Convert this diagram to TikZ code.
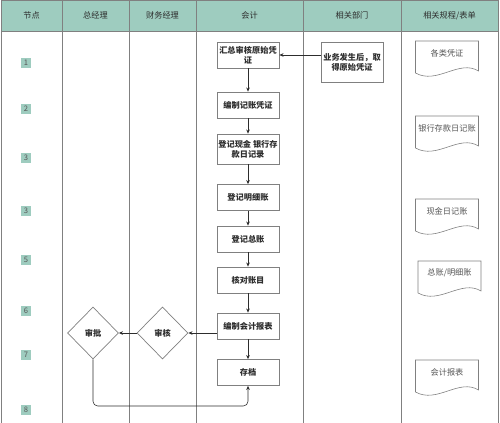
\documentclass[tikz,border=0pt]{standalone}
\usepackage{fontspec}
\newfontfamily\cjk{Noto Sans CJK SC}
\usepackage{tikz}
\usetikzlibrary{arrows.meta, positioning, shapes.geometric, calc}
\usepackage{xcolor}
\definecolor{hdrfill}{RGB}{158,204,191}
\definecolor{laneline}{RGB}{128,128,128}
\definecolor{inkgray}{RGB}{45,45,45}
\definecolor{formgray}{RGB}{85,85,85}

\tikzset{
  form/.pic={
    \draw[draw=laneline, line width=0.5pt, fill=white] (-31.5,20) -- (-31.5,-12) -- (31.5,-12) -- (31.5,18)
      .. controls (12,6) and (-10,32) .. (-31.5,20) -- cycle;
    \node[formtxt] (-t) at (0,0) {#1};
  }
}

\begin{document}
\begin{tikzpicture}[x=0.03cm, y=-0.03cm,
  lane/.style={draw=laneline, line width=0.6pt},
  hdr/.style={font=\cjk\fontsize{7}{8.4}\selectfont, text=inkgray},
  tag/.style={fill=hdrfill, font=\cjk\fontsize{6.5}{7}\selectfont, text=formgray, inner sep=0pt,
    minimum width=9pt, minimum height=8.5pt},
  task/.style={draw=laneline, line width=0.6pt, fill=white, minimum width=1.86cm, minimum height=0.78cm,
    align=center, inner sep=1pt, font=\cjk\fontsize{7}{8.6}\selectfont\bfseries, text=inkgray},
  decide/.style={diamond, draw=laneline, line width=0.6pt, fill=white, minimum width=1.53cm, minimum height=1.56cm,
    inner sep=0pt, font=\cjk\fontsize{7}{8.4}\selectfont\bfseries, text=inkgray},
  formtxt/.style={font=\cjk\fontsize{7}{8.4}\selectfont, text=formgray, inner sep=1pt},
  arr/.style={-{Stealth[length=3.5pt,width=3pt]}, draw=inkgray, line width=0.5pt}
]
  \useasboundingbox (0,0) rectangle (500,423);
  \fill[hdrfill] (1,0.5) rectangle (498,31);
  \foreach \x in {1,62,129,196,303,401,498}
    \draw[lane] (\x,0) -- (\x,423);
  \draw[lane] (1,0.5) -- (498,0.5);
  \draw[lane] (1,31) -- (498,31);

  \foreach \t/\x [count=\i] in {{节点}/31.5, {总经理}/95.5, {财务经理}/162.5, {会计}/249.5, {相关部门}/352, {相关规程/表单}/449.5}
    \node[hdr] (h\i) at (\x,15.5) {\t};

  \foreach \n/\y [count=\i] in {1/63, 2/109, 3/158, 3/211, 5/260, 6/311, 7/355, 8/410}
    \node[tag] (n\i) at (26,\y) {\n};

  \node[task] (b1) at (248,55) {汇总审核原始凭\\证};
  \node[task] (b2) at (248,105) {编制记账凭证};
  \node[task, minimum height=0.9cm] (b3) at (248,149) {登记现金 银行存\\款日记录};
  \node[task] (b4) at (248,197.5) {登记明细账};
  \node[task] (b5) at (248,239) {登记总账};
  \node[task] (b6) at (248,280) {核对账目};
  \node[task] (b7) at (248,326) {编制会计报表};
  \node[task] (b8) at (248,372.5) {存档};

  \node[task, minimum height=1.2cm] (dept) at (352,62) {业务发生后，取\\得原始凭证};

  \node[decide] (shenhe) at (162.5,333) {审核};
  \node[decide] (shenpi) at (93,333) {审批};
  \coordinate (back) at (248,406);

  \draw[arr] (dept.west |- b1.east) -- (b1.east);
  \foreach \a/\b in {b1/b2, b2/b3, b3/b4, b4/b5, b5/b6, b6/b7, b7/b8}
    \draw[arr] (\a) -- (\b);
  \draw[arr] (b7.west |- shenhe.east) -- (shenhe.east);
  \draw[arr] (shenhe) -- (shenpi);
  \draw[arr, rounded corners=4pt] (shenpi.south) |- (back) -- (b8.south);

  \pic (f1) at (447,53) {form=各类凭证};
  \pic (f2) at (447,128) {form=银行存款日记账};
  \pic (f3) at (447,211) {form=现金日记账};
  \pic (f4) at (449.5,273) {form=总账/明细账};
  \pic (f5) at (447,372) {form=会计报表};
\end{tikzpicture}
\end{document}
